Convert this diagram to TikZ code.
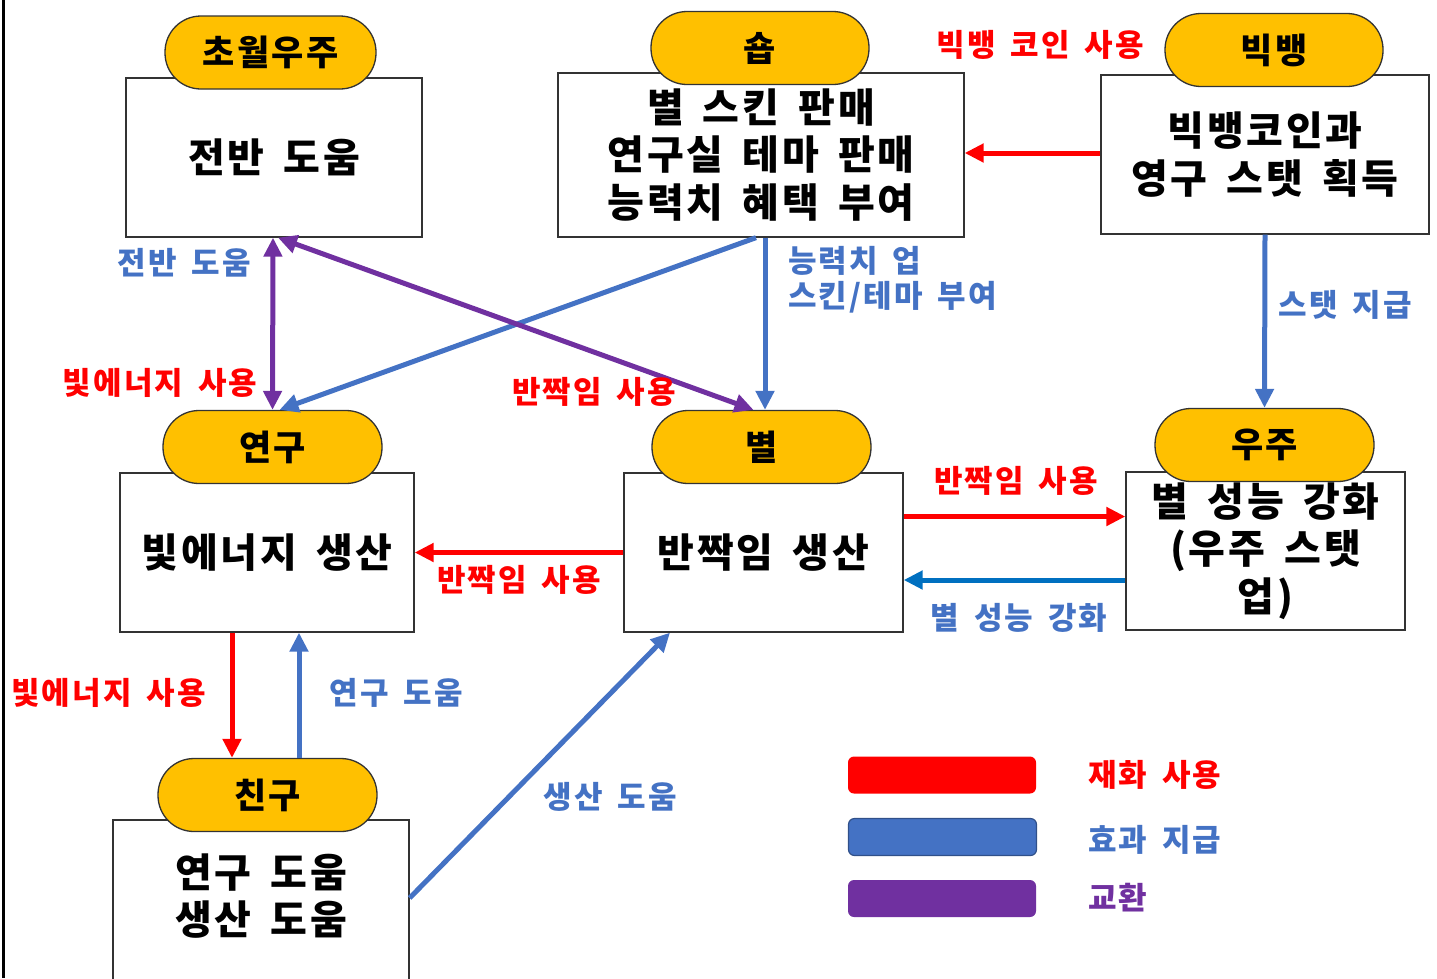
\documentclass[tikz,border=0pt]{standalone}
\usepackage{fontspec}
\setmainfont{Noto Sans CJK KR}[LetterSpace=7, WordSpace=1.6]
\usetikzlibrary{arrows.meta}

\definecolor{gold}{HTML}{FFC000}
\definecolor{effblue}{HTML}{4472C4}
\definecolor{deepblue}{HTML}{0070C0}
\definecolor{tradepurple}{HTML}{7030A0}
\definecolor{edgegray}{HTML}{333333}

\tikzset{
  panel/.style={draw=edgegray, line width=1.3pt, fill=white, align=center, inner sep=0pt,
    font=\fontsize{40}{47.5}\selectfont\bfseries},
  pill/.style={draw=edgegray, line width=1.3pt, fill=gold, rounded corners=36pt, inner sep=0pt,
    minimum width=218pt, minimum height=73pt, font=\fontsize{35}{40}\selectfont\bfseries},
  tip/.style={-{Triangle[length=19pt,width=18pt]}},
  costarrow/.style={draw=red, line width=5pt, tip},
  effectarrow/.style={draw=effblue, line width=5pt, tip},
  tradearrow/.style={draw=tradepurple, line width=5pt, {Triangle[length=19pt,width=18pt]}-{Triangle[length=19pt,width=18pt]}},
  tag/.style={inner sep=0pt, font=\fontsize{31}{35}\selectfont\bfseries},
  legbar/.style={minimum width=188pt, minimum height=37pt, rounded corners=6pt, inner sep=0pt}
}

\begin{document}
\begin{tikzpicture}[x=1pt, y=-1pt]
    \useasboundingbox (0,0) rectangle (1437,978);

    % left border line
    \draw[line width=3pt] (3.5,0) -- (3.5,978);

    % boxes
    \node[panel, minimum width=296pt, minimum height=159pt] (uniBox) at (274,157.5) {전반 도움};
    \node[panel, minimum width=406pt, minimum height=164pt] (shopBox) at (761,155) {별 스킨 판매\\연구실 테마 판매\\능력치 혜택 부여};
    \node[panel, minimum width=328pt, minimum height=159pt] (bangBox) at (1265,154.5) {빅뱅코인과\\영구 스탯 획득};
    \node[panel, minimum width=294pt, minimum height=159pt] (labBox) at (267,552.5) {빛에너지 생산};
    \node[panel, minimum width=279pt, minimum height=159pt] (starBox) at (763.5,552.5) {반짝임 생산};
    \node[panel, minimum width=279pt, minimum height=158pt] (spaceBox) at (1265.5,551) {별 성능 강화\\(우주 스탯\\업)};
    \node[panel, minimum width=296pt, minimum height=180pt] (friendBox) at (261,910) {};
    \node[panel, draw=none, fill=none] (friendText) at (261,896) {연구 도움\\생산 도움};

    % titles
    \node[pill, minimum width=211pt] (uniPill) at (270.5,52.5) {초월우주};
    \node[pill] (shopPill) at (760,48) {숍};
    \node[pill] (bangPill) at (1274,50) {빅뱅};
    \node[pill, minimum width=219pt] (labPill) at (272.5,447) {연구};
    \node[pill, minimum width=219pt] (starPill) at (761.5,447) {별};
    \node[pill, minimum width=219pt] (spacePill) at (1264.5,445) {우주};
    \node[pill, minimum width=219pt] (friendPill) at (267.5,795) {친구};

    % connectors
    \draw[costarrow] ([yshift=1.5pt]bangBox.west) -- ([yshift=1.5pt]bangBox.west -| shopBox.east);
    \draw[effectarrow] (bangBox.south) -- (spacePill.north);
    \draw[effectarrow] ([xshift=4pt]shopBox.south) -- ([xshift=3.5pt]starPill.north);
    \draw[effectarrow] ([xshift=-5pt]shopBox.south) -- ([xshift=7pt]labPill.north);
    \draw[tradearrow] ([xshift=-1pt]uniBox.south) -- (labPill.north);
    \draw[tradearrow] ([xshift=4pt]uniBox.south) -- ([xshift=-8pt]starPill.north);
    \draw[costarrow] (starBox.west) -- (labBox.east);
    \draw[costarrow] ([yshift=36pt]starBox.east) -- ([yshift=36pt]starBox.east -| spaceBox.west);
    \draw[draw=deepblue, line width=5pt, tip] ([yshift=-29pt]spaceBox.west) -- ([yshift=-29pt]spaceBox.west -| starBox.east);
    \draw[costarrow] ([xshift=-35pt]labBox.south) -- ([xshift=-35pt]labBox.south |- friendPill.north);
    \draw[effectarrow] ([xshift=32pt]labBox.south |- friendPill.north) -- ([xshift=32pt]labBox.south);
    \draw[effectarrow] ([yshift=12pt]friendBox.east) -- ([xshift=-93.5pt]starBox.south);

    % connector labels
    \node[tag, text=red] (coinTag) at (1040,45) {빅뱅 코인 사용};
    \node[tag, text=effblue] (statTag) at (1345,305) {스탯 지급};
    \node[tag, text=effblue, align=left, anchor=west] (skinTag) at (788,279.5) {능력치 업\\스킨/테마 부여};
    \node[tag, text=effblue] (helpTag) at (184.5,263) {전반 도움};
    \node[tag, text=red] (lightTag) at (160,383) {빛에너지 사용};
    \node[tag, text=red] (shineTag) at (594,392) {반짝임 사용};
    \node[tag, text=red] (shineLabTag) at (519,580) {반짝임 사용};
    \node[tag, text=red] (shineSpaceTag) at (1016,481) {반짝임 사용};
    \node[tag, text=effblue] (boostTag) at (1019,618) {별 성능 강화};
    \node[tag, text=red] (lightFriendTag) at (108.5,693) {빛에너지 사용};
    \node[tag, text=effblue] (labHelpTag) at (396,693) {연구 도움};
    \node[tag, text=effblue] (makeHelpTag) at (610,797) {생산 도움};

    % legend
    \node[legbar, fill=red] (legCost) at (942,775) {};
    \node[legbar, fill=effblue, draw=effblue!70!black, line width=1.2pt] (legEffect) at (942.5,837) {};
    \node[legbar, fill=tradepurple] (legTrade) at (942,898.5) {};
    \node[tag, text=red, anchor=west] (legCostTag) at (1088,775) {재화 사용};
    \node[tag, text=effblue, anchor=west] (legEffectTag) at (1088,840) {효과 지급};
    \node[tag, text=tradepurple, anchor=west] (legTradeTag) at (1088,898) {교환};
\end{tikzpicture}
\end{document}
